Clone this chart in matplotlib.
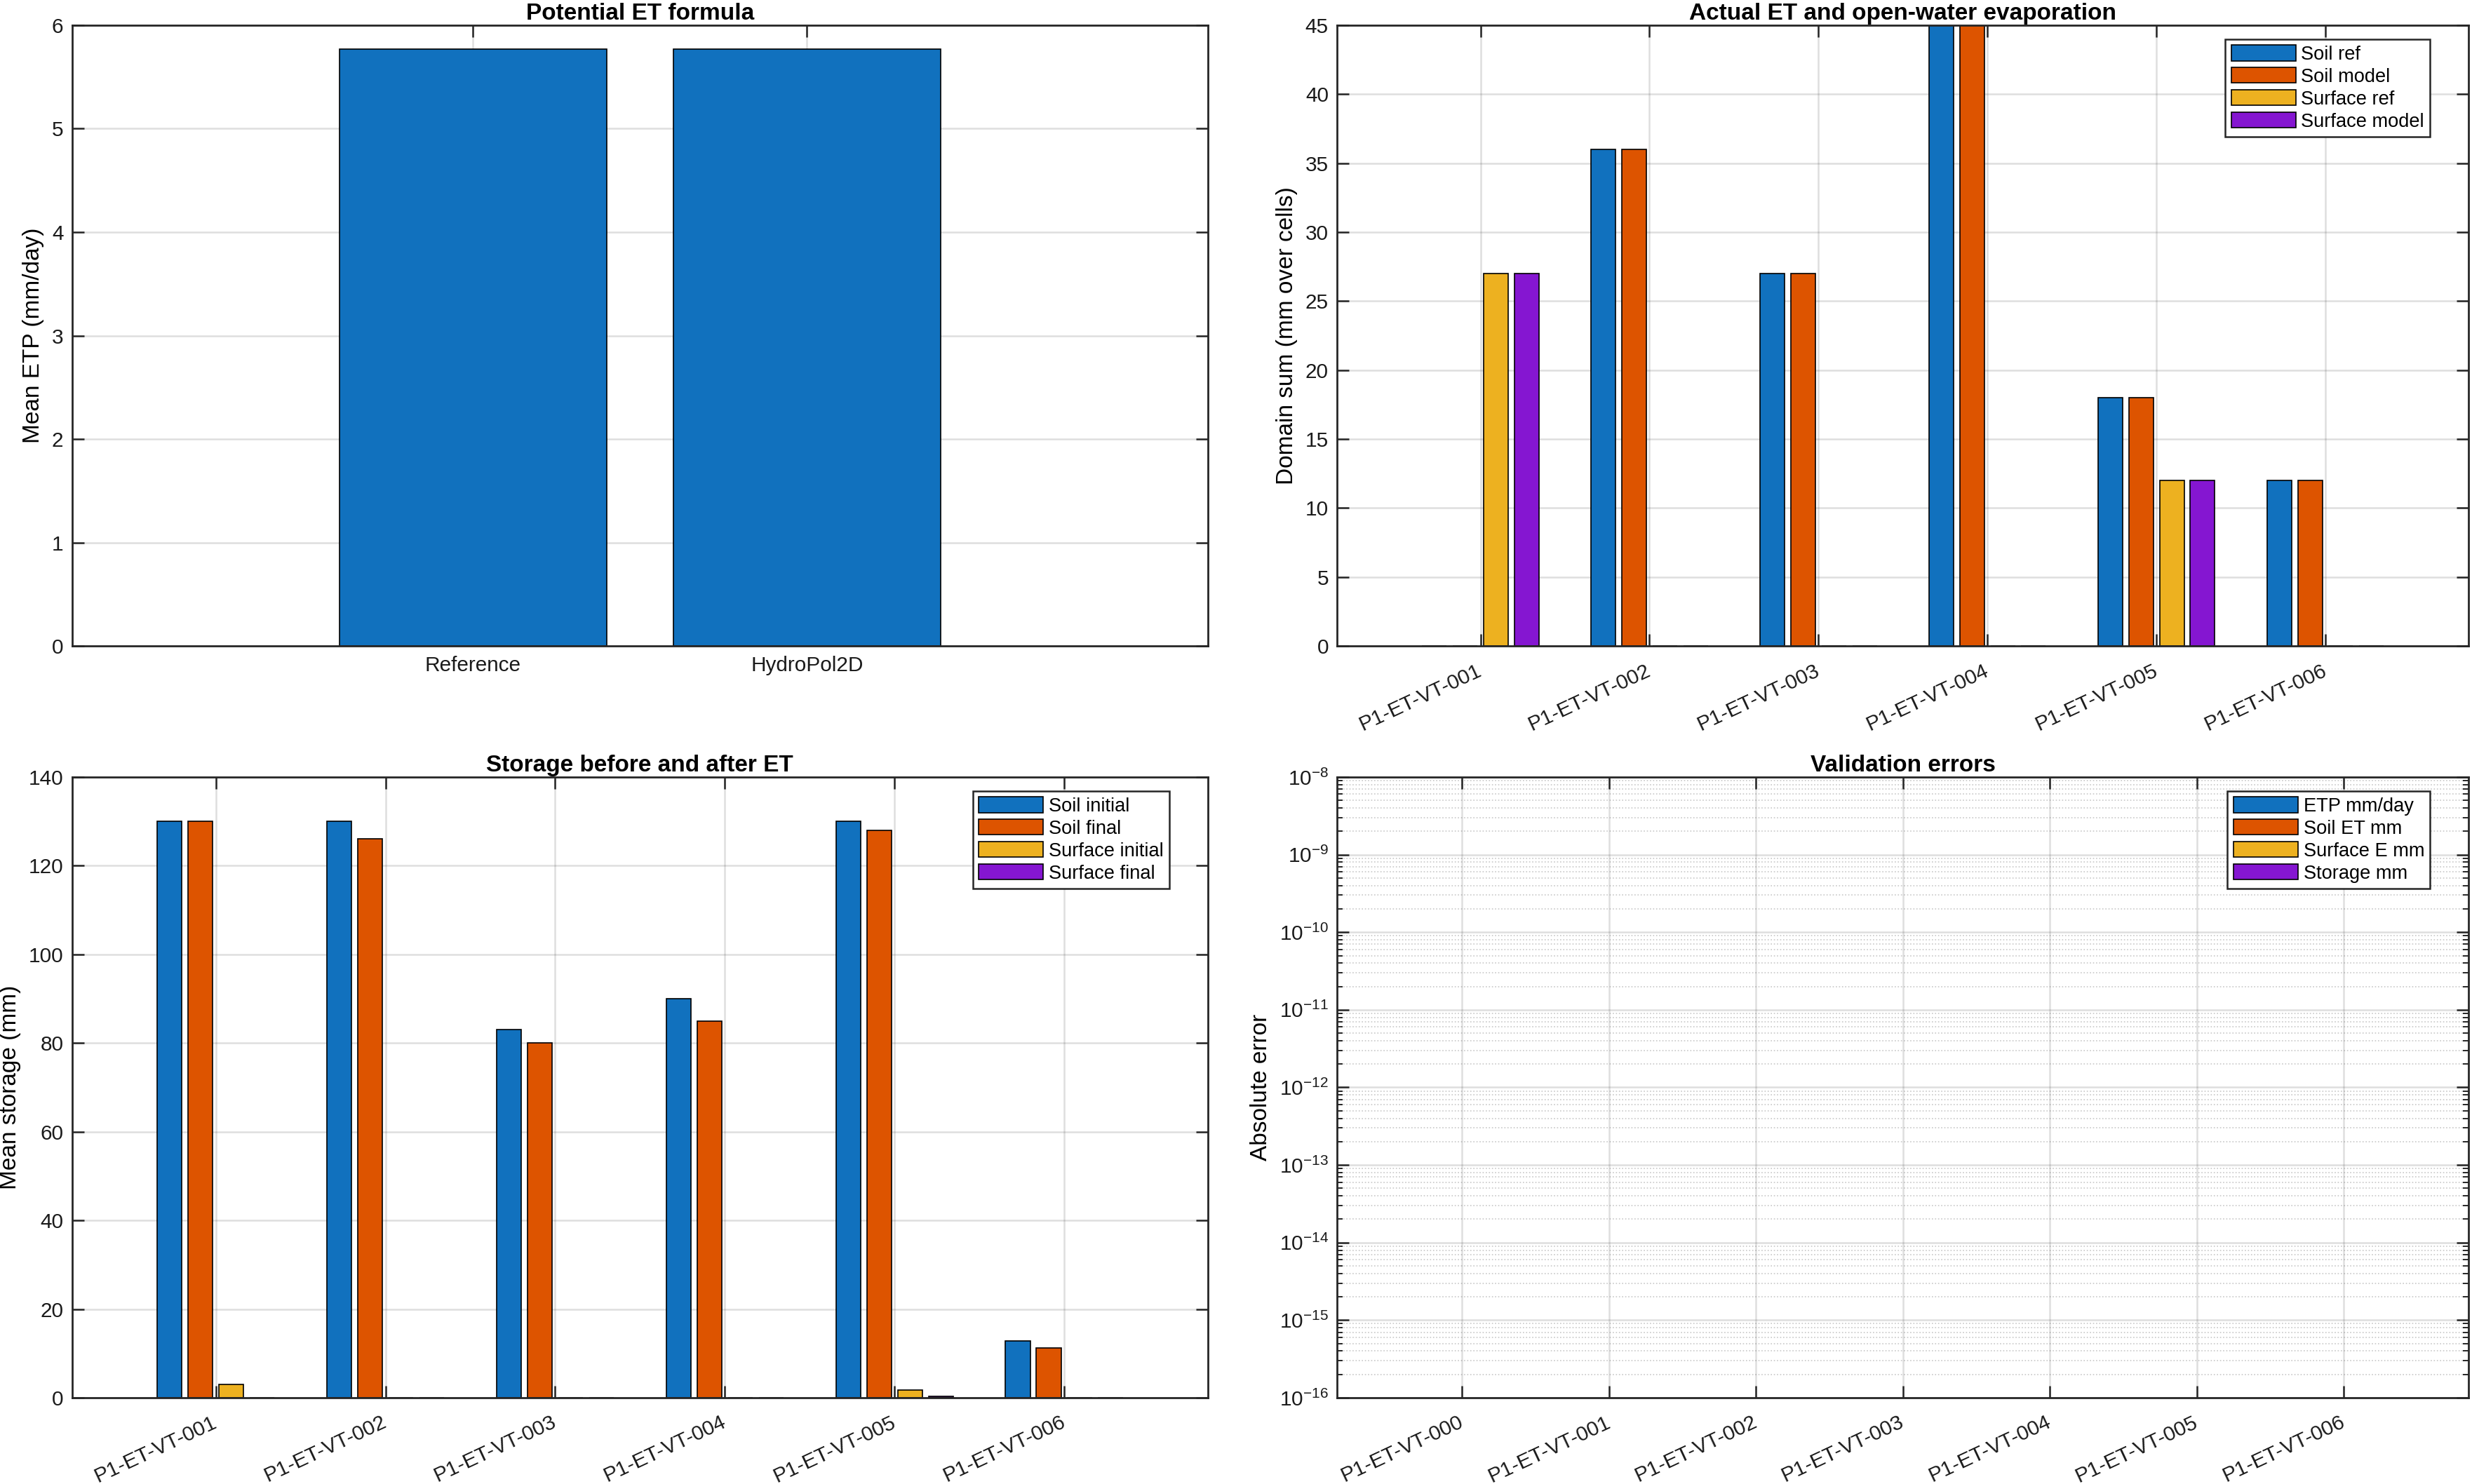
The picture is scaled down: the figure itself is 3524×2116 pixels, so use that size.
import matplotlib

matplotlib.use("Agg")
import matplotlib.pyplot as plt
import numpy as np

# MATLAB "gem" colour order
BLUE = "#1171BE"
ORANGE = "#DD5400"
YELLOW = "#EDB120"
PURPLE = "#8516D1"
COLORS = [BLUE, ORANGE, YELLOW, PURPLE]

# --- data ---
etp_labels = ["Reference", "HydroPol2D"]
etp_values = [5.77, 5.77]

cases = ["P1-ET-VT-001", "P1-ET-VT-002", "P1-ET-VT-003",
         "P1-ET-VT-004", "P1-ET-VT-005", "P1-ET-VT-006"]
et_legend = ["Soil ref", "Soil model", "Surface ref", "Surface model"]
soil_ref = [0, 36, 27, 45, 18, 12]
soil_model = [0, 36, 27, 45, 18, 12]
surf_ref = [27, 0, 0, 0, 12, 0]
surf_model = [27, 0, 0, 0, 12, 0]

st_legend = ["Soil initial", "Soil final", "Surface initial", "Surface final"]
soil_init = [130, 130, 83, 90, 130, 12.8]
soil_final = [130, 126, 80, 85, 128, 11.3]
surf_init = [3.0, 0, 0, 0, 1.7, 0]
surf_final = [0, 0, 0, 0, 0.3, 0]

err_cases = ["P1-ET-VT-000", "P1-ET-VT-001", "P1-ET-VT-002", "P1-ET-VT-003",
             "P1-ET-VT-004", "P1-ET-VT-005", "P1-ET-VT-006"]
err_legend = ["ETP mm/day", "Soil ET mm", "Surface E mm", "Storage mm"]
err_etp = [0, 0, 0, 0, 0, 0, 0]
err_soil = [0, 0, 0, 0, 0, 0, 0]
err_surf = [0, 0, 0, 0, 0, 0, 0]
err_storage = [0, 0, 0, 0, 0, 0, 0]

plt.rcParams["font.family"] = ["Liberation Sans", "DejaVu Sans"]
plt.rcParams["axes.unicode_minus"] = False
AXC = "#262626"
TICK_FS = 10.7
LABEL_FS = 12
TITLE_FS = 12
LEG_FS = 9.8


def style_axes(ax, xpad=5):
    for s in ax.spines.values():
        s.set_color(AXC)
        s.set_linewidth(1.0)
    ax.tick_params(direction="in", top=True, right=True, length=6, width=0.9,
                   colors=AXC, labelsize=TICK_FS, labelcolor="#1a1a1a")
    ax.tick_params(axis="y", pad=4.5)
    ax.tick_params(axis="x", pad=xpad)
    ax.tick_params(which="minor", direction="in", left=True, right=True,
                   top=False, length=3, width=0.7, colors=AXC)
    ax.grid(True, which="major", color="#262626", alpha=0.15, linewidth=0.9)
    ax.set_axisbelow(True)


def grouped_bars(ax, series, n_groups, start=1):
    n = len(series)
    gw = min(0.8, n / (n + 1.5))
    step = gw / n
    x = np.arange(n_groups) + start
    handles = []
    for i, vals in enumerate(series):
        off = (i - (n - 1) / 2) * step
        h = ax.bar(x + off, vals, width=step * 0.8, color=COLORS[i],
                   edgecolor="black", linewidth=0.6)
        handles.append(h)
    return x, handles


def rot_labels(ax, x, labels):
    ax.set_xticks(x)
    ax.set_xticklabels(labels, rotation=25, ha="right", va="center",
                       rotation_mode="anchor")


def add_legend(ax, handles, labels):
    leg = ax.legend(handles, labels, loc="upper right",
                    bbox_to_anchor=(0.966, 0.977), borderaxespad=0,
                    fontsize=LEG_FS, frameon=True, fancybox=False,
                    edgecolor=AXC, framealpha=1,
                    handlelength=3.38, handleheight=0.87, handletextpad=0.29,
                    labelspacing=0.2, borderpad=0.3)
    leg.get_frame().set_linewidth(0.9)
    return leg


fig = plt.figure(figsize=(17.62, 10.58), dpi=200)
L1, R1, L2, R2 = 0.0292, 0.4886, 0.541, 0.9986
B1, T1, B2, T2 = 0.5647, 0.983, 0.0581, 0.4764
ax1 = fig.add_axes([L1, B1, R1 - L1, T1 - B1])
ax2 = fig.add_axes([L2, B1, R2 - L2, T1 - B1])
ax3 = fig.add_axes([L1, B2, R1 - L1, T2 - B2])
ax4 = fig.add_axes([L2, B2, R2 - L2, T2 - B2])

# Potential ET
xe = np.arange(len(etp_labels)) + 1
ax1.bar(xe, etp_values, width=0.8, color=BLUE, edgecolor="black", linewidth=0.6)
ax1.set_xlim(-0.2, 3.2)
ax1.set_ylim(0, 6)
ax1.set_xticks(xe)
ax1.set_xticklabels(etp_labels)
ax1.set_ylabel("Mean ETP (mm/day)", fontsize=LABEL_FS)
ax1.set_title("Potential ET formula", fontsize=TITLE_FS, fontweight="bold", pad=3)
style_axes(ax1, xpad=5)

# Actual ET
x2, h2 = grouped_bars(ax2, [soil_ref, soil_model, surf_ref, surf_model], len(cases))
ax2.set_xlim(0.153, 6.847)
ax2.set_ylim(0, 45)
ax2.set_yticks(np.arange(0, 46, 5))
rot_labels(ax2, x2, cases)
ax2.set_ylabel("Domain sum (mm over cells)", fontsize=LABEL_FS)
ax2.set_title("Actual ET and open-water evaporation", fontsize=TITLE_FS,
              fontweight="bold", pad=3)
style_axes(ax2, xpad=12)
add_legend(ax2, h2, et_legend)

# Storage
x3, h3 = grouped_bars(ax3, [soil_init, soil_final, surf_init, surf_final], len(cases))
ax3.set_xlim(0.153, 6.847)
ax3.set_ylim(0, 140)
ax3.set_yticks(np.arange(0, 141, 20))
rot_labels(ax3, x3, cases)
ax3.set_ylabel("Mean storage (mm)", fontsize=LABEL_FS)
ax3.set_title("Storage before and after ET", fontsize=TITLE_FS,
              fontweight="bold", pad=3)
style_axes(ax3, xpad=12)
add_legend(ax3, h3, st_legend)

# Validation errors
ax4.set_yscale("log")
x4, h4 = grouped_bars(ax4, [err_etp, err_soil, err_surf, err_storage], len(err_cases))
ax4.set_xlim(1 - 0.85, len(err_cases) + 0.85)
ax4.set_ylim(1e-16, 1e-8)
ax4.set_yticks([10.0 ** k for k in range(-16, -7)])
ax4.yaxis.set_minor_locator(matplotlib.ticker.LogLocator(base=10, subs=np.arange(2, 10)))
ax4.yaxis.set_minor_formatter(matplotlib.ticker.NullFormatter())
rot_labels(ax4, x4, err_cases)
ax4.set_ylabel("Absolute error", fontsize=LABEL_FS)
ax4.set_title("Validation errors", fontsize=TITLE_FS, fontweight="bold", pad=3)
style_axes(ax4, xpad=12)
ax4.grid(True, which="minor", axis="y", color="#262626", alpha=0.25,
         linewidth=0.6, linestyle=":")
add_legend(ax4, h4, err_legend)

fig.savefig("out.png", dpi=200)
